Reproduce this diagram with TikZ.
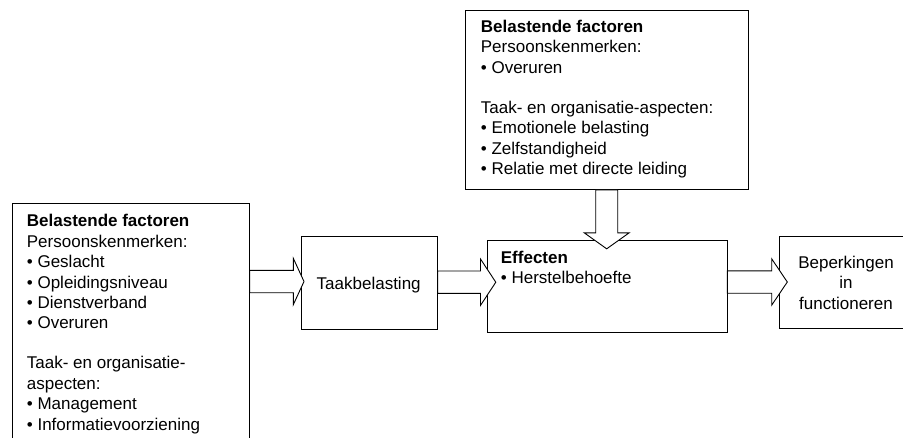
\documentclass[tikz,border=0pt]{standalone}
\usepackage{fontspec}
\setmainfont{Liberation Sans}
\usetikzlibrary{calc}
\tikzset{
  box/.style={draw=black, line width=0.9pt, fill=white, inner sep=0pt, anchor=north west},
  txt/.style={inner sep=0pt, font=\fontsize{17}{20.4}\selectfont, text=black},
  blockarrow/.style={draw=black, line width=0.9pt, fill=white, line join=miter}
}
\newcommand\harr[5]{\draw[blockarrow]
  ($(#1.east|-#3)+(0,-11.2)$) -- ($(#2.west|-#3)+(#4,-11.2)$) --
  ($(#2.west|-#3)+(#4,-23.2)$) -- ($(#2.west|-#3)+(#5,0)$) --
  ($(#2.west|-#3)+(#4,23.2)$) -- ($(#2.west|-#3)+(#4,11.2)$) --
  ($(#1.east|-#3)+(0,11.2)$) -- cycle;}
\begin{document}
\begin{tikzpicture}[x=1pt,y=-1pt]
\clip (0,0) rectangle (903,437);
\fill[white] (0,0) rectangle (903,437);
% boxes
\node[box, minimum width=237.2pt, minimum height=260pt] (left) at (11.5,202.5) {};
\node[box, minimum width=135.7pt, minimum height=92.8pt] (taak) at (301,235.7) {};
\node[box, minimum width=239.7pt, minimum height=92.3pt] (effect) at (486.8,240) {};
\node[box, minimum width=283.3pt, minimum height=179.5pt] (top) at (465,9.5) {};
\node[box, minimum width=134.3pt, minimum height=92.6pt] (bep) at (778.7,235.7) {};
% arrows
\coordinate (ya) at (0,281.5);
\coordinate (yb) at (0,282.2);
\coordinate (yc) at (0,282.0);
\coordinate (xd) at (606.7,0);
\harr{left}{taak}{ya}{-7.7}{3}
\harr{taak}{effect}{yb}{-6.3}{9}
\harr{effect}{bep}{yc}{-7}{8.6}
\draw[blockarrow]
  ($(top.south-|xd)+(-11,0)$) -- ($(effect.north-|xd)+(-11,-7.2)$) --
  ($(effect.north-|xd)+(-22.5,-7.2)$) -- ($(effect.north-|xd)+(0,8.8)$) --
  ($(effect.north-|xd)+(22.5,-7.2)$) -- ($(effect.north-|xd)+(11,-7.2)$) --
  ($(top.south-|xd)+(11,0)$) -- cycle;
% texts
\node[txt, anchor=north west, align=left] (leftt) at (26.7,212.4) {%
\strut\textbf{Belastende factoren}\\
\strut Persoonskenmerken:\\
\strut• Geslacht\\
\strut• Opleidingsniveau\\
\strut• Dienstverband\\
\strut• Overuren\\[19.6pt]
\strut Taak- en organisatie-\\
\strut aspecten:\\
\strut• Management\\
\strut• Informatievoorziening};
\node[txt, anchor=north west, align=left] (topt) at (480.7,18.0) {%
\strut\textbf{Belastende factoren}\\
\strut Persoonskenmerken:\\
\strut• Overuren\\[19.6pt]
\strut Taak- en organisatie-aspecten:\\
\strut• Emotionele belasting\\
\strut• Zelfstandigheid\\
\strut• Relatie met directe leiding};
\node[txt, anchor=base] (taakt) at (368.7,289.3) {Taakbelasting};
\node[txt, anchor=north west, align=left] (effectt) at (500.7,249.0) {%
\strut\textbf{Effecten}\\
\strut• Herstelbehoefte};
\node[txt, anchor=north, align=center] (bept) at (846,254.0) {%
\strut Beperkingen\\
\strut in\\
\strut functioneren};
\end{tikzpicture}
\end{document}
